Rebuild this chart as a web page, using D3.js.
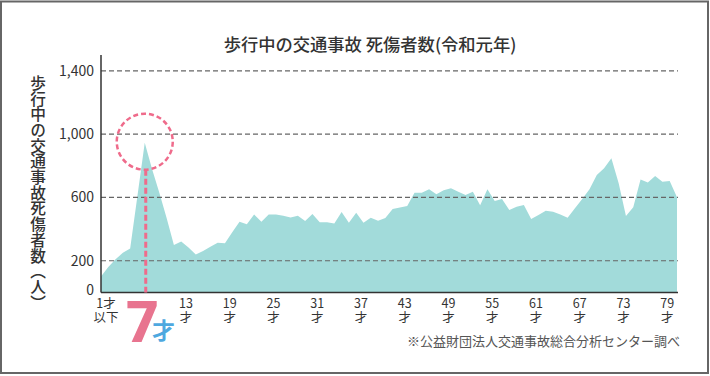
<!DOCTYPE html>
<html lang="ja">
<head>
    <meta charset="UTF-8">
    <title>歩行中の交通事故 死傷者数</title>
    <script src="https://d3js.org/d3.v7.min.js"></script>
    <style>
        body { margin: 0; background: #fff; }
        svg text { font-family: "Noto Sans CJK JP", "Noto Sans", sans-serif; fill: #333; }
    </style>
</head>
<body>
    <div id="chart"></div>
    <script>
        // ages (1才以下 ... 80才) and casualties per age
        const ages = [1, 2, 3, 4, 5, 6, 7, 8, 9, 10,
            11, 12, 13, 14, 15, 16, 17, 18, 19, 20,
            21, 22, 23, 24, 25, 26, 27, 28, 29, 30,
            31, 32, 33, 34, 35, 36, 37, 38, 39, 40,
            41, 42, 43, 44, 45, 46, 47, 48, 49, 50,
            51, 52, 53, 54, 55, 56, 57, 58, 59, 60,
            61, 62, 63, 64, 65, 66, 67, 68, 69, 70,
            71, 72, 73, 74, 75, 76, 77, 78, 79, 80];
        const casualties = [100, 160, 210, 250, 278, 610, 946, 780, 630, 470,
            300, 322, 284, 240, 262, 288, 314, 310, 380, 447,
            430, 493, 447, 493, 492, 485, 474, 485, 451, 495,
            443, 443, 436, 508, 440, 504, 440, 472, 452, 470,
            527, 536, 546, 630, 630, 651, 620, 646, 658, 636,
            615, 636, 550, 651, 577, 590, 520, 541, 552, 464,
            489, 516, 510, 493, 472, 531, 590, 651, 742, 784,
            847, 689, 483, 538, 714, 695, 735, 699, 704, 601];
        const yTicks = [0, 200, 600, 1000, 1400];
        const gridTicks = [200, 600, 1000, 1400];
        const xTicks = [13, 19, 25, 31, 37, 43, 49, 55, 61, 67, 73, 79];
        const highlightAge = 7;

        const W = 710, H = 376;
        const plotLeft = 101, plotRight = 678, plotTop = 55, plotBottom = 292.4;

        const svg = d3.select("#chart").append("svg")
            .attr("width", W)
            .attr("height", H);

        // frame
        svg.append("rect")
            .attr("x", 1).attr("y", 1.5)
            .attr("width", 707).attr("height", 371.5)
            .attr("fill", "#fff")
            .attr("stroke", "#666")
            .attr("stroke-width", 2);

        const x = d3.scaleLinear().domain([1, 80]).range([plotLeft, 677]);
        const y = d3.scaleLinear().domain([0, 1500]).range([plotBottom, plotTop]);

        const data = ages.map((a, i) => ({ age: a, value: casualties[i] }));

        // area
        const area = d3.area()
            .x(d => x(d.age))
            .y0(y(0))
            .y1(d => y(d.value));

        svg.append("path")
            .datum(data)
            .attr("d", area)
            .attr("fill", "#a2dbda");

        // grid lines
        svg.selectAll(".grid")
            .data(gridTicks)
            .enter()
            .append("line")
            .attr("class", "grid")
            .attr("x1", plotLeft).attr("x2", plotRight)
            .attr("y1", d => y(d)).attr("y2", d => y(d))
            .attr("stroke", "#666")
            .attr("stroke-width", 1.2)
            .attr("stroke-dasharray", "5,3");

        // y tick labels
        svg.selectAll(".ylab")
            .data(yTicks)
            .enter()
            .append("text")
            .attr("class", "ylab")
            .attr("x", 94)
            .attr("y", d => y(d))
            .attr("dy", d => d === 0 ? "0.2em" : "0.36em")
            .attr("text-anchor", "end")
            .style("font-size", "14px")
            .text(d => d3.format(",")(d));

        // axes lines
        svg.append("line")
            .attr("x1", plotLeft).attr("x2", plotLeft)
            .attr("y1", plotTop).attr("y2", plotBottom)
            .attr("stroke", "#333").attr("stroke-width", 1.5);
        svg.append("line")
            .attr("x1", plotLeft).attr("x2", plotRight)
            .attr("y1", plotBottom).attr("y2", plotBottom)
            .attr("stroke", "#333").attr("stroke-width", 1.5);

        // x tick labels (number over 才)
        const xl = svg.selectAll(".xlab")
            .data(xTicks)
            .enter()
            .append("text")
            .attr("class", "xlab")
            .attr("text-anchor", "middle")
            .style("font-size", "12.5px");
        xl.append("tspan")
            .attr("x", d => x(d) - 2.5)
            .attr("y", 307.5)
            .text(d => d);
        xl.append("tspan")
            .attr("x", d => x(d) - 2.5)
            .attr("y", 321.5)
            .text("才");

        // first label 1才以下
        const first = svg.append("text")
            .attr("text-anchor", "middle")
            .style("font-size", "12.5px");
        first.append("tspan")
            .attr("x", x(1) + 5).attr("y", 307.5)
            .text("1才");
        first.append("tspan")
            .attr("x", x(1) + 5).attr("y", 321.5)
            .text("以下");

        // highlight for 7才
        const peak = data.find(d => d.age === highlightAge);
        svg.append("circle")
            .attr("cx", x(peak.age))
            .attr("cy", y(peak.value) - 1)
            .attr("r", 28)
            .attr("fill", "none")
            .attr("stroke", "#ef6b8b")
            .attr("stroke-width", 2.5)
            .attr("stroke-dasharray", "5,3");
        svg.append("line")
            .attr("x1", x(peak.age) + 1).attr("x2", x(peak.age) + 1)
            .attr("y1", y(peak.value) + 27).attr("y2", plotBottom)
            .attr("stroke", "#ef6b8b")
            .attr("stroke-width", 3)
            .attr("stroke-dasharray", "6,3");

        const seven = svg.append("text")
            .attr("x", 126)
            .attr("y", 342);
        seven.append("tspan")
            .style("font-family", "Roboto, sans-serif")
            .style("font-size", "57px")
            .style("font-weight", "900")
            .style("fill", "#e8748f")
            .text(highlightAge);
        seven.append("tspan")
            .attr("dx", -7)
            .attr("dy", -3)
            .style("font-size", "23px")
            .style("font-weight", "700")
            .style("fill", "#4ea8df")
            .text("才");

        // title
        svg.append("text")
            .attr("x", 370).attr("y", 51)
            .attr("text-anchor", "middle")
            .style("font-size", "17.3px")
            .style("font-weight", "500")
            .text("歩行中の交通事故 死傷者数(令和元年)");

        // y axis title (vertical)
        svg.append("text")
            .attr("x", 38).attr("y", 75)
            .style("writing-mode", "vertical-rl")
            .style("font-size", "15.7px")
            .style("font-weight", "500")
            .text("歩行中の交通事故死傷者数（人）");

        // source
        svg.append("text")
            .attr("x", 680).attr("y", 346)
            .attr("text-anchor", "end")
            .style("font-size", "13px")
            .style("fill", "#555")
            .text("※公益財団法人交通事故総合分析センター調べ");
    </script>
</body>
</html>
